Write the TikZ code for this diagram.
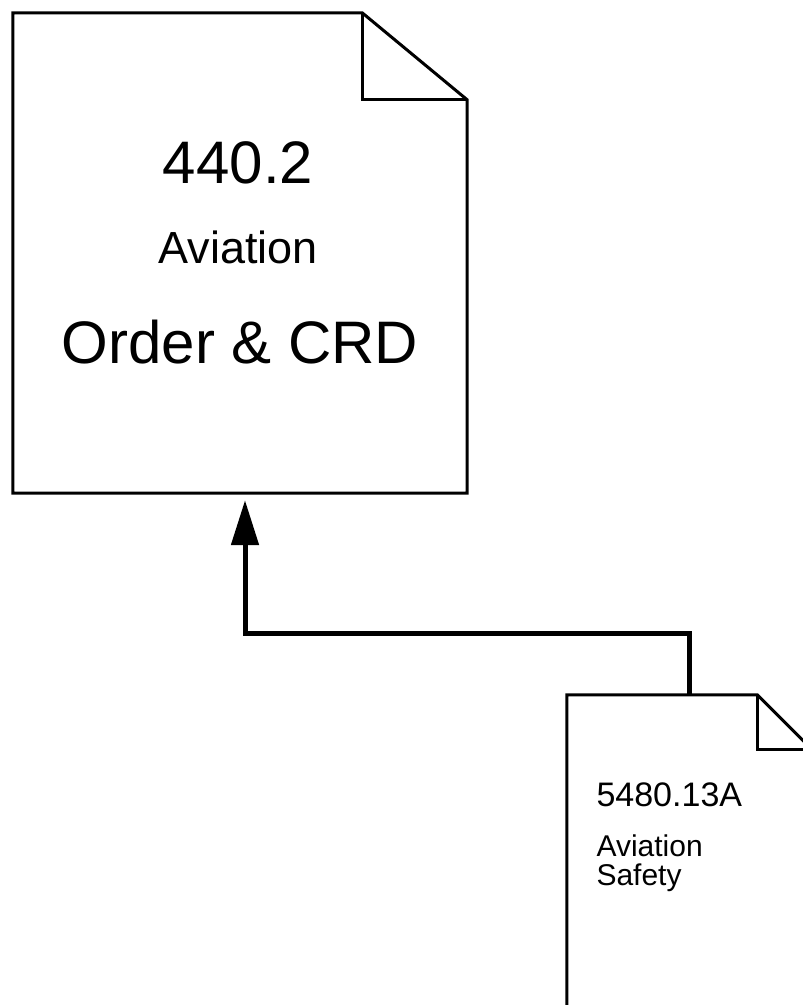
\documentclass[tikz,border=0pt]{standalone}
\usepackage{fontspec}
\setmainfont{Liberation Sans}
\usetikzlibrary{arrows.meta, positioning}

\begin{document}
\begin{tikzpicture}[x=1pt, y=-1pt,
  docbox/.style={rectangle, draw=none, inner sep=0pt},
  outline/.style={line width=3pt},
  link/.style={line width=5pt, -{Triangle[length=45pt, width=27pt]},
               shorten >=7pt},
  bignum/.style={anchor=base, font=\fontsize{60}{72}\selectfont},
  bigsub/.style={anchor=base, font=\fontsize{45}{54}\selectfont},
  smallnum/.style={anchor=base west, font=\fontsize{34}{40}\selectfont},
  smallsub/.style={anchor=base west, font=\fontsize{30}{36}\selectfont}
]
\useasboundingbox (0,0) rectangle (803,1005);
\clip (0,0) rectangle (803,1005);

\node[docbox, minimum width=454pt, minimum height=480pt] (order) at (240,253) {};
\node[docbox, minimum width=245pt, minimum height=350pt] (safety) at (689.5,870) {};

% big document with folded corner
\draw[outline] (order.north west) -- ([xshift=-105pt]order.north east)
  -- ([yshift=-87pt]order.north east) -- (order.south east)
  -- (order.south west) -- cycle;
\draw[outline] ([xshift=-105pt]order.north east) |- ([yshift=-87pt]order.north east);

% small document
\draw[outline] (safety.north west) -- ([xshift=-55pt]safety.north east)
  -- ([yshift=-55pt]safety.north east) -- (safety.south east)
  -- (safety.south west) -- cycle;
\draw[outline] ([xshift=-55pt]safety.north east) |- ([yshift=-55pt]safety.north east);

\node[bignum] (num1) at (238,183) {440.2};
\node[bigsub] (sub1) at (238,263) {Aviation};
\node[bignum] (title1) at (240,363) {Order \& CRD};

\node[smallnum] (num2) at (593,806) {5480.13A};
\node[smallsub] (sub2) at (593,856) {Aviation};
\node[smallsub] (sub3) at (593,885) {Safety};

\coordinate (bend) at (245,633);
\draw[link] (safety.north) |- (bend) -- (bend |- order.south);
\end{tikzpicture}
\end{document}
